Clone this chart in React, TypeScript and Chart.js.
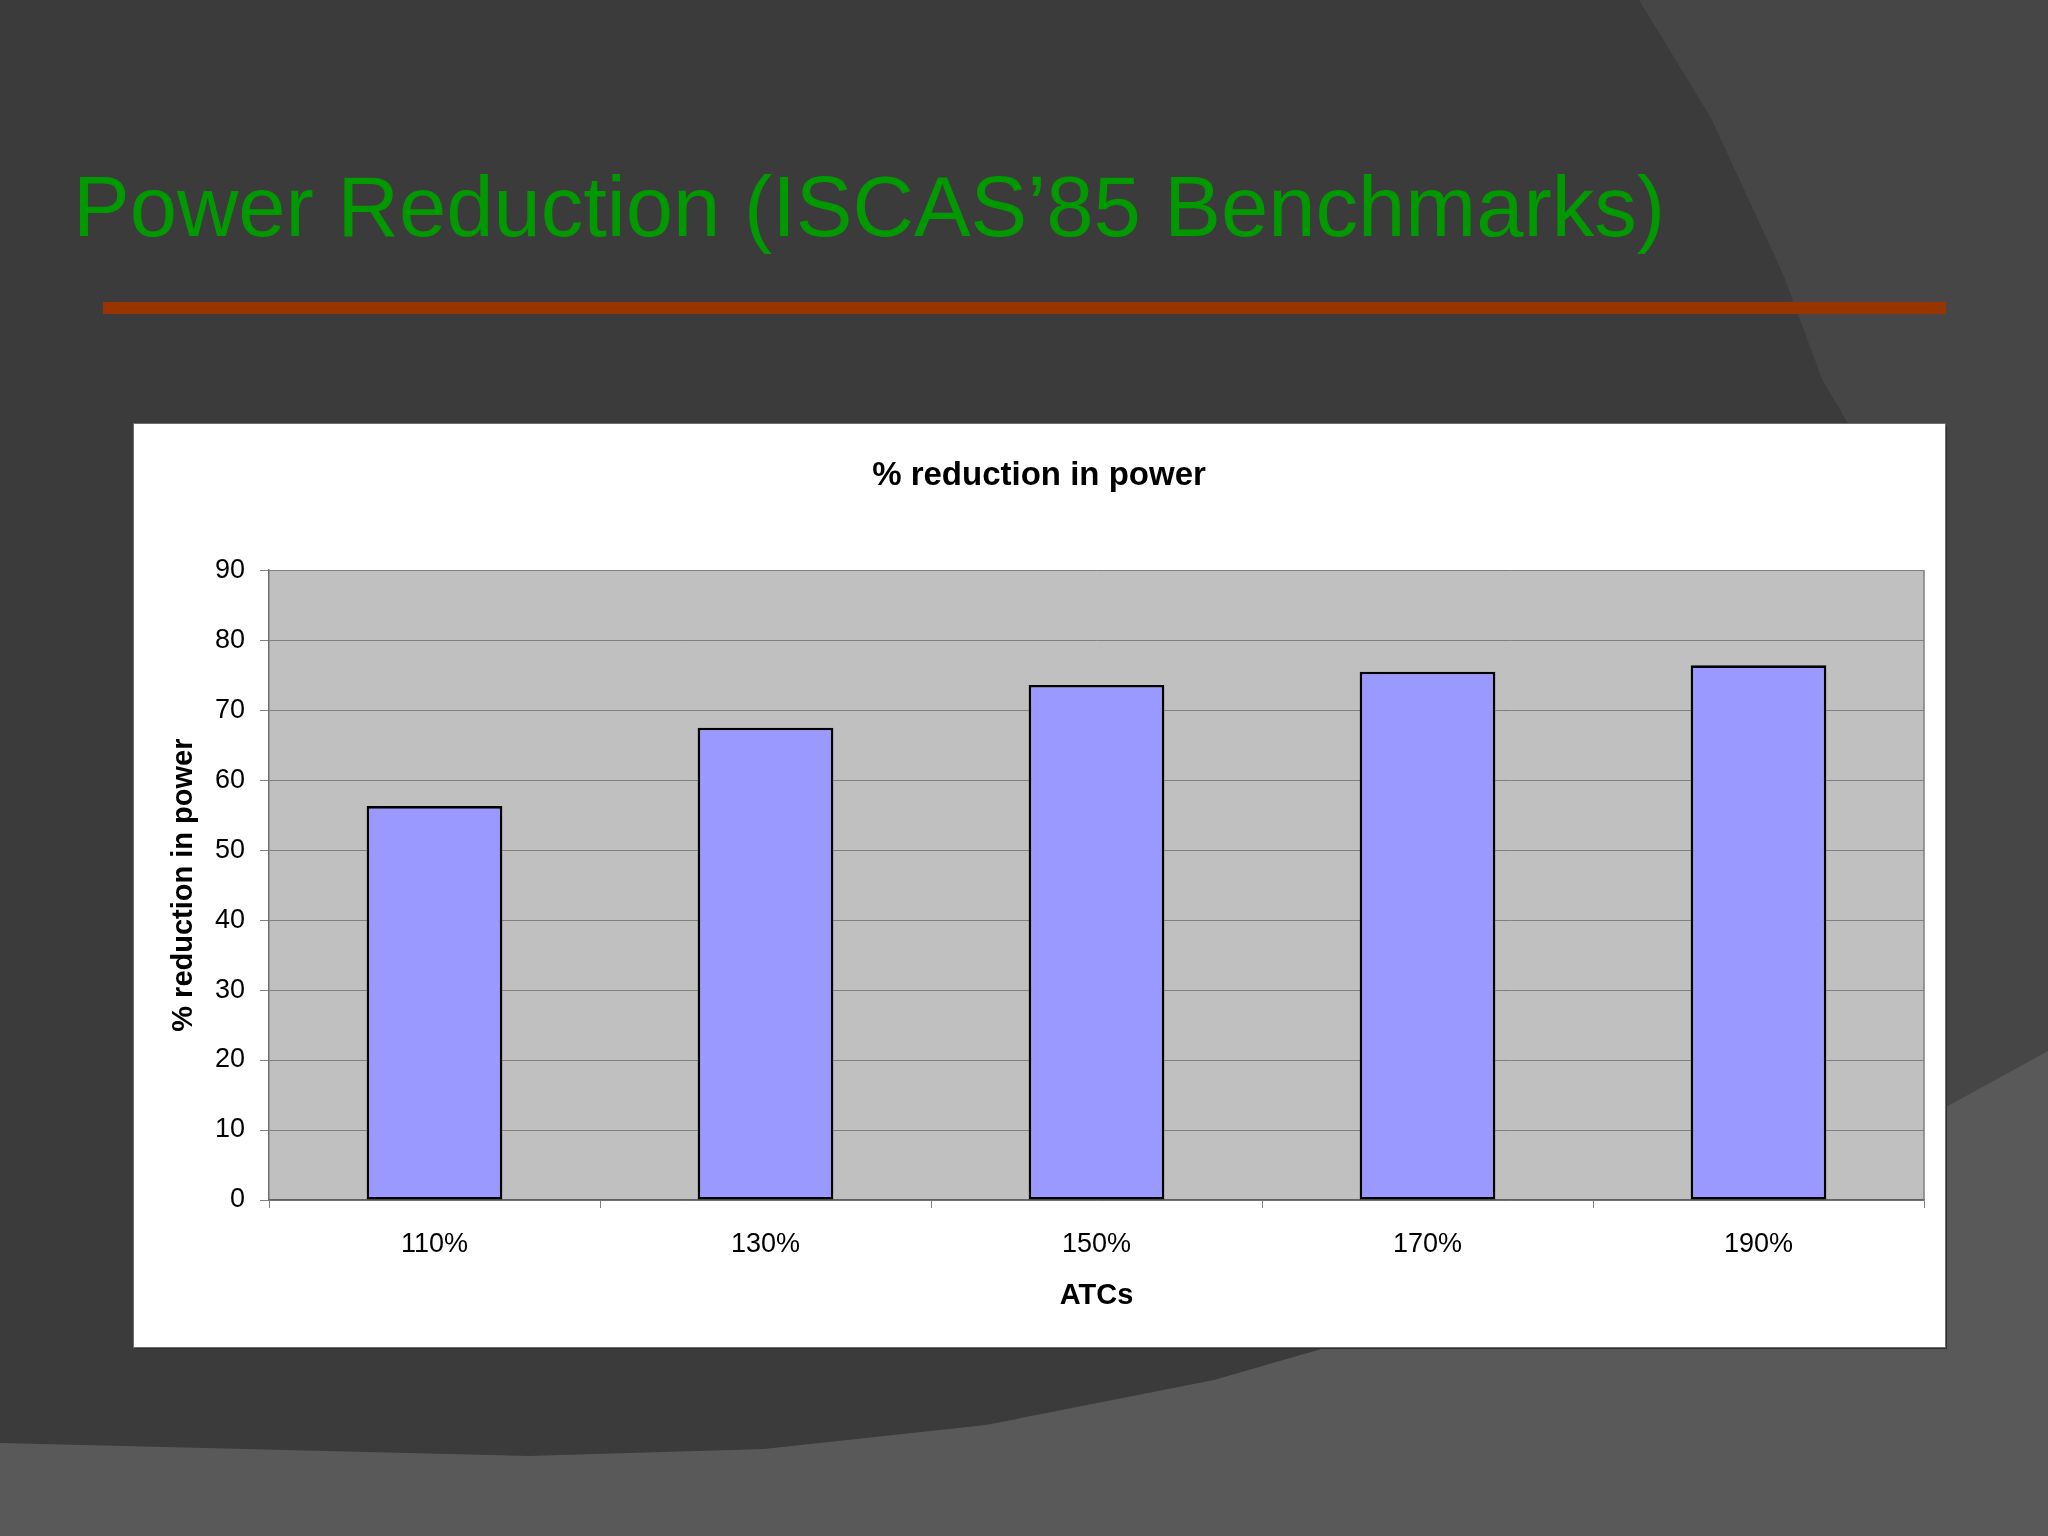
import { useEffect, useRef } from "react"
import { Chart, registerables } from "chart.js"

Chart.register(...registerables)

// values
const categories = ["110%", "130%", "150%", "170%", "190%"]
const reductionValues = [56.3, 67.5, 73.6, 75.5, 76.4]
const yMin = 0
const yMax = 90
const yStep = 10

const slideTitle = "Power Reduction (ISCAS\u201985 Benchmarks)"
const chartTitle = "% reduction in power"
const xAxisTitle = "ATCs"
const yAxisTitle = "% reduction in power"

const FONT = "'Liberation Sans', Arial, sans-serif"

// grey plot background + right border, like the Excel plot area
const plotAreaPlugin = {
  id: "plotArea",
  beforeDraw(chart: Chart) {
    const { ctx, chartArea: a } = chart
    ctx.save()
    ctx.fillStyle = "#c0c0c0"
    ctx.fillRect(a.left, a.top, a.right - a.left, a.bottom - a.top)
    ctx.restore()
  },
  afterDraw(chart: Chart) {
    const { ctx, chartArea: a } = chart
    ctx.save()
    ctx.strokeStyle = "#808080"
    ctx.lineWidth = 1.5
    ctx.beginPath()
    ctx.moveTo(a.right, a.top)
    ctx.lineTo(a.right, a.bottom)
    ctx.stroke()
    ctx.restore()
  },
}

function ReductionChart() {
  const chartRef = useRef<HTMLCanvasElement>(null)
  const chartInstance = useRef<Chart | null>(null)

  useEffect(() => {
    if (!chartRef.current) return
    if (chartInstance.current) chartInstance.current.destroy()

    chartInstance.current = new Chart(chartRef.current, {
      type: "bar",
      data: {
        labels: categories,
        datasets: [
          {
            label: yAxisTitle,
            data: reductionValues,
            backgroundColor: "#9999ff",
            borderColor: "#000000",
            borderWidth: 2.6,
            borderSkipped: false,
            barPercentage: 0.41,
            categoryPercentage: 1,
          },
        ],
      },
      options: {
        animation: false,
        responsive: false,
        devicePixelRatio: 1,
        layout: { padding: { top: 20, left: 20, right: 21, bottom: 20 } },
        plugins: {
          legend: { display: false },
          tooltip: { enabled: false },
          title: {
            display: true,
            text: chartTitle,
            color: "#000000",
            font: { family: FONT, size: 33, weight: "bold", lineHeight: 1.2 },
            padding: { top: 12, bottom: 74.6 },
          },
        },
        scales: {
          x: {
            offset: true,
            afterFit(scale) {
              scale.height = 127
            },
            grid: {
              display: true,
              offset: true,
              drawOnChartArea: false,
              drawTicks: true,
              tickLength: 8,
              color: "#808080",
            },
            border: { display: true, color: "#606060", width: 1.5 },
            ticks: {
              color: "#000000",
              padding: 20,
              maxRotation: 0,
              font: { family: FONT, size: 27, lineHeight: 1.2 },
            },
            title: {
              display: true,
              text: xAxisTitle,
              color: "#000000",
              font: { family: FONT, size: 29, weight: "bold", lineHeight: 1.2 },
              padding: { top: 0, bottom: 14 },
            },
          },
          y: {
            min: yMin,
            max: yMax,
            afterFit(scale) {
              scale.width = 115
            },
            grid: {
              color: "#808080",
              lineWidth: 1,
              drawTicks: true,
              tickLength: 9,
            },
            border: { display: true, color: "#707070", width: 1.5 },
            ticks: {
              stepSize: yStep,
              color: "#000000",
              padding: 15,
              font: { family: FONT, size: 27, lineHeight: 1.2 },
            },
            title: {
              display: true,
              text: yAxisTitle,
              color: "#000000",
              font: { family: FONT, size: 29, weight: "bold", lineHeight: 1.2 },
              padding: { top: 12.6, bottom: 0 },
            },
          },
        },
      },
      plugins: [plotAreaPlugin],
    })

    return () => {
      if (chartInstance.current) {
        chartInstance.current.destroy()
        chartInstance.current = null
      }
    }
  }, [])

  return <canvas ref={chartRef} width={1811} height={923} style={{ display: "block", width: 1811, height: 923 }} />
}

export default function App() {
  return (
    <div
      style={{
        position: "absolute",
        left: 0,
        top: 0,
        width: 2048,
        height: 1536,
        overflow: "hidden",
        background: "#3c3b3c",
      }}
    >
      {/* slide background shapes */}
      <svg width={2048} height={1536} viewBox="0 0 2048 1536" style={{ position: "absolute", left: 0, top: 0 }}>
        <polygon
          fill="#474647"
          points="1639,0 2048,0 2048,1536 1858,1536 1858,440 1840,410 1822,379 1783,274 1711,118"
        />
        <polygon
          fill="#5a595a"
          points="0,1443 529,1456 764,1449 986,1425 1214,1380 1325,1348 1946,1107 2048,1051 2048,1536 0,1536"
        />
      </svg>

      <div
        style={{
          position: "absolute",
          left: 73,
          top: 164,
          fontFamily: FONT,
          fontSize: 85,
          lineHeight: 1,
          color: "#009a00",
          whiteSpace: "nowrap",
        }}
      >
        {slideTitle}
      </div>

      <div style={{ position: "absolute", left: 103, top: 302, width: 1843, height: 12, background: "#983400" }} />

      <div
        style={{
          position: "absolute",
          left: 134,
          top: 424,
          width: 1811,
          height: 923,
          background: "#ffffff",
          boxShadow: "0 0 0 1px #6e6e6e, 2px 2px 0 #2e2e2e",
        }}
      >
        <ReductionChart />
      </div>
    </div>
  )
}
